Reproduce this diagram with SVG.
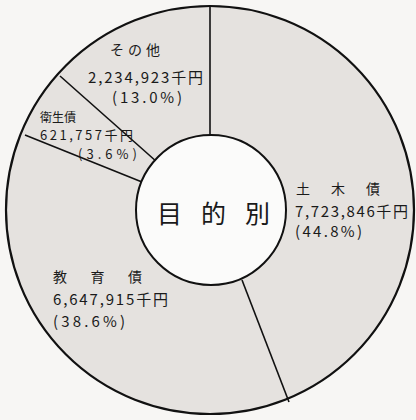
<svg xmlns="http://www.w3.org/2000/svg" width="416" height="420" viewBox="0 0 416 420">
<style>
.lbl{font-family:"Noto Sans CJK JP","Noto Sans",sans-serif;fill:#1a1a1a;font-size:14px}
.num{font-size:15px}
.sm{font-size:13px}
.big{font-size:25px}
.ln{stroke:#111;stroke-width:1.6;fill:none}
</style>
<rect width="416" height="420" fill="#f7f6f4"/>
<g id="donut">
<circle cx="210" cy="210" r="204" fill="#e5e2df" stroke="#111" stroke-width="2.2"/>
</g>
<g id="connectors">
<line class="ln" x1="210" y1="6" x2="210" y2="135"/>
<line class="ln" x1="242" y1="280" x2="289" y2="402"/>
<line class="ln" x1="25" y1="135" x2="142" y2="182"/>
<line class="ln" x1="60" y1="76" x2="157" y2="162"/>
</g>
<g id="center">
<circle cx="211" cy="210" r="75" fill="#fbfbfa" stroke="#111" stroke-width="2"/>
<text class="lbl big" x="157" y="223" textLength="113" lengthAdjust="spacing">目的別</text>
</g>
<g id="sonota">
<text class="lbl" x="110" y="55" textLength="50" lengthAdjust="spacing">その他</text>
<text class="lbl num" x="88" y="83" textLength="115" lengthAdjust="spacing">2,234,923千円</text>
<text class="lbl num" x="112" y="103" textLength="70" lengthAdjust="spacing">(13.0%)</text>
</g>
<g id="eisei">
<text class="lbl" x="40" y="122" font-size="12" textLength="36" lengthAdjust="spacing" style="font-size:12px">衛生債</text>
<text class="lbl sm" x="40" y="140" textLength="93" lengthAdjust="spacing">621,757千円</text>
<text class="lbl sm" x="78" y="159" textLength="59" lengthAdjust="spacing">(3.6%)</text>
</g>
<g id="doboku">
<text class="lbl" x="296" y="194" textLength="84" lengthAdjust="spacing">土木債</text>
<text class="lbl num" x="295" y="217" textLength="113" lengthAdjust="spacing">7,723,846千円</text>
<text class="lbl num" x="295" y="237" textLength="67" lengthAdjust="spacing">(44.8%)</text>
</g>
<g id="kyoiku">
<text class="lbl" x="53" y="282" textLength="89" lengthAdjust="spacing">教育債</text>
<text class="lbl num" x="53" y="305" textLength="115" lengthAdjust="spacing">6,647,915千円</text>
<text class="lbl num" x="53" y="327" textLength="72" lengthAdjust="spacing">(38.6%)</text>
</g>
</svg>
